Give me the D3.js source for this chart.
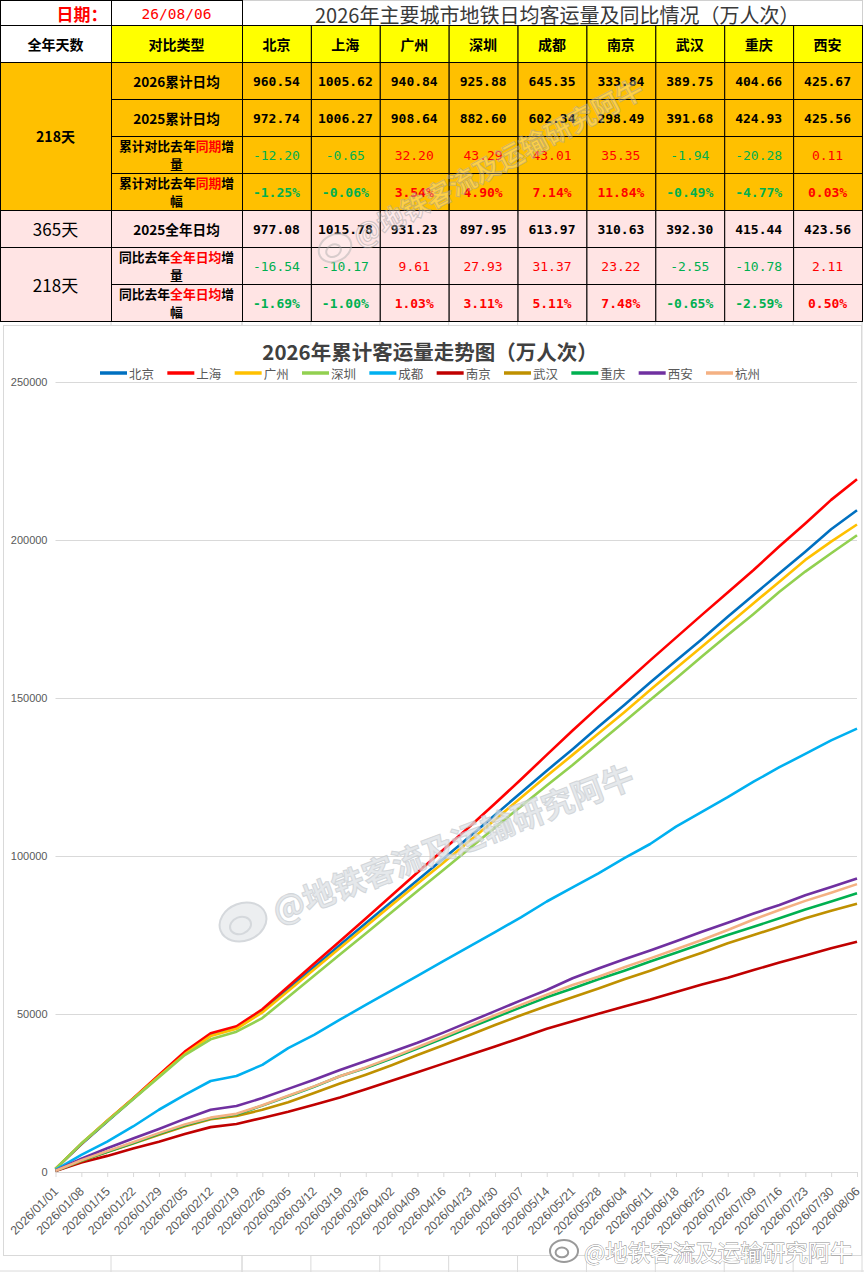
<!DOCTYPE html>
<html lang="zh">
<head>
<meta charset="UTF-8" />
<title>2026年主要城市地铁日均客运量</title>
<script src="https://cdnjs.cloudflare.com/ajax/libs/d3/7.8.5/d3.min.js"></script>
<style>
  html, body { margin: 0; padding: 0; background: #fff; }
  svg { display: block; }
</style>
</head>
<body>
<svg id="svg"></svg>
<script>
  // ---- table data ----
  const cities = ["北京", "上海", "广州", "深圳", "成都", "南京", "武汉", "重庆", "西安"];
  const avg2026 = [960.54, 1005.62, 940.84, 925.88, 645.35, 333.84, 389.75, 404.66, 425.67];
  const avg2025 = [972.74, 1006.27, 908.64, 882.60, 602.34, 298.49, 391.68, 424.93, 425.56];
  const ytdDiff = [-12.20, -0.65, 32.20, 43.29, 43.01, 35.35, -1.94, -20.28, 0.11];
  const ytdPct = [-1.25, -0.06, 3.54, 4.90, 7.14, 11.84, -0.49, -4.77, 0.03];
  const full2025 = [977.08, 1015.78, 931.23, 897.95, 613.97, 310.63, 392.30, 415.44, 423.56];
  const fullDiff = [-16.54, -10.17, 9.61, 27.93, 31.37, 23.22, -2.55, -10.78, 2.11];
  const fullPct = [-1.69, -1.00, 1.03, 3.11, 5.11, 7.48, -0.65, -2.59, 0.50];

  // ---- chart data (cumulative, 万人次, read weekly) ----
  const weekDates = ["2026/01/01", "2026/01/08", "2026/01/15", "2026/01/22", "2026/01/29", "2026/02/05",
    "2026/02/12", "2026/02/19", "2026/02/26", "2026/03/05", "2026/03/12", "2026/03/19", "2026/03/26",
    "2026/04/02", "2026/04/09", "2026/04/16", "2026/04/23", "2026/04/30", "2026/05/07", "2026/05/14",
    "2026/05/21", "2026/05/28", "2026/06/04", "2026/06/11", "2026/06/18", "2026/06/25", "2026/07/02",
    "2026/07/09", "2026/07/16", "2026/07/23", "2026/07/30", "2026/08/06"];
  const bj = [1000, 8800, 16000, 23100, 30300, 37400, 43500, 45700, 51000, 58000, 64900, 71800, 78700, 85500, 92300, 99100,
    106000, 113000, 120000, 127000, 133800, 140900, 147800, 154900, 161800, 168600, 175700, 182600, 189500, 196300, 203400, 209400];
  const sh = [1000, 8900, 16200, 23300, 30700, 38100, 43900, 46100, 51500, 58700, 65900, 73000, 80200, 87500, 94800, 102000,
    109200, 116600, 124200, 132000, 139700, 147200, 154500, 161900, 169100, 176300, 183400, 190500, 198000, 205200, 212700, 219200];
  const gz = [1000, 9000, 16200, 23200, 30300, 37300, 43000, 45300, 50500, 57300, 64100, 70900, 77700, 84500, 91200, 97900,
    104700, 111500, 118400, 125300, 132000, 138800, 145500, 152500, 159400, 166200, 173100, 180000, 186800, 193700, 199500, 204900];
  const sz = [1000, 9000, 16100, 23000, 30000, 37000, 42000, 44400, 48700, 55400, 62100, 68800, 75500, 82200, 88900, 95600,
    102300, 109000, 115700, 122300, 128800, 135700, 142500, 149400, 156200, 163100, 169900, 176600, 183600, 190000, 195800, 201500];
  const cd = [700, 5400, 9600, 14400, 19700, 24400, 28800, 30400, 33900, 39200, 43400, 48200, 52900, 57500, 62100, 66700,
    71300, 75900, 80600, 85600, 90100, 94500, 99300, 103800, 109300, 114000, 118600, 123500, 128100, 132300, 136600, 140300];
  const nj = [300, 3000, 5100, 7400, 9600, 12000, 14200, 15200, 17100, 19100, 21300, 23600, 26200, 28900, 31600, 34300,
    37000, 39700, 42500, 45300, 47700, 50100, 52400, 54600, 57000, 59300, 61500, 63900, 66300, 68500, 70800, 72900];
  const wh = [400, 3500, 6300, 9000, 11800, 14500, 16700, 17700, 19700, 22100, 25000, 28000, 30800, 33800, 37000, 40100,
    43300, 46500, 49600, 52500, 55300, 58100, 61000, 63700, 66600, 69400, 72400, 75000, 77600, 80300, 82700, 84900];
  const cq = [400, 3600, 6400, 9200, 12100, 14800, 17000, 18200, 21000, 24000, 27000, 30300, 32900, 35900, 39100, 42300,
    45600, 48900, 52100, 55300, 58100, 61000, 63700, 66600, 69400, 72200, 75000, 77600, 80300, 83100, 85600, 88200];
  const xa = [400, 4200, 7500, 10600, 13600, 16800, 19700, 20900, 23400, 26300, 29200, 32300, 35100, 38000, 40900, 44100,
    47500, 50900, 54300, 57600, 61300, 64400, 67300, 70100, 73000, 76000, 78900, 81800, 84500, 87600, 90200, 92900];
  const hz = [400, 3700, 6600, 9400, 12300, 15000, 17200, 18400, 21100, 24100, 27100, 30300, 33100, 36200, 39500, 42800,
    46200, 49600, 52900, 56100, 59200, 61800, 64800, 67600, 70500, 73400, 76600, 79900, 82900, 85800, 88400, 91100];
  const seriesNames = ["北京", "上海", "广州", "深圳", "成都", "南京", "武汉", "重庆", "西安", "杭州"];
  const seriesValues = [bj, sh, gz, sz, cd, nj, wh, cq, xa, hz];
  const yTicks = [0, 50000, 100000, 150000, 200000, 250000];

  const seriesColors = ["#0070c0", "#ff0000", "#ffc000", "#92d050", "#00b0f0", "#c00000", "#bf9000", "#00b050", "#7030a0", "#f4b183"];

  const W = 864, H = 1272;
  const CJK = "'Noto Sans CJK SC', sans-serif";
  const MONO = "'DejaVu Sans Mono', monospace";
  const ORANGE = "#ffc000", YELLOW = "#ffff00", PINK = "#ffe4e4";
  const RED = "#ff0000", GREEN = "#00b050";

  const svg = d3.select("#svg").attr("width", W).attr("height", H);

  // spreadsheet grid behind everything
  const colX = d3.scaleBand().domain(cities).range([242, 862]);
  const sheetCols = [111, 242].concat(cities.map(c => colX(c)), [862]);
  svg.append("g").selectAll("line").data(sheetCols).join("line")
    .attr("x1", d => d).attr("x2", d => d).attr("y1", 0).attr("y2", H)
    .attr("stroke", "#dadada");
  svg.append("line").attr("x1", 0).attr("x2", W).attr("y1", 1271).attr("y2", 1271).attr("stroke", "#dadada");

  // ---------------- table ----------------
  const rowKeys = ["head", "a26", "a25", "yd", "yp", "f25", "fd", "fp"];
  const rowY = d3.scaleBand().domain(rowKeys).range([25, 321]);
  const rh = rowY.bandwidth();
  const tbl = svg.append("g");

  function cell(x0, y0, w, h, fill, stroke) {
    tbl.append("rect").attr("x", x0 + 0.5).attr("y", y0 + 0.5).attr("width", w).attr("height", h)
      .attr("fill", fill).attr("stroke", stroke || "#000").attr("stroke-width", 1);
  }
  function label(x0, y0, str, opt) {
    opt = opt || {};
    return tbl.append("text").attr("x", x0).attr("y", y0)
      .attr("text-anchor", opt.anchor || "middle").attr("dominant-baseline", "central")
      .attr("font-family", opt.font || CJK).attr("font-size", opt.size || 14)
      .attr("font-weight", opt.weight || "bold").attr("fill", opt.fill || "#000")
      .text(str);
  }

  // top row: date + title
  tbl.append("rect").attr("x", 0).attr("y", 0).attr("width", 862).attr("height", 25).attr("fill", "#fff");
  cell(242, 0, 620, 25, "#fff", "#d0d0d0");
  cell(0, 0, 111, 25, "#fff");
  cell(111, 0, 131, 25, "#fff");
  label(82, 13, "日期：", { fill: RED, size: 17 });
  label(176.5, 13.5, "26/08/06", { fill: RED, size: 14.5, font: MONO, weight: "normal" });
  label(315, 14, "2026年主要城市地铁日均客运量及同比情况（万人次）",
    { anchor: "start", size: 20, weight: "normal", fill: "#3a3a3a" });

  // header row
  const hy = rowY("head");
  cell(0, hy, 111, rh, "#fff");
  cell(111, hy, 131, rh, YELLOW);
  label(55.5, hy + rh / 2, "全年天数");
  label(176.5, hy + rh / 2, "对比类型");
  cities.forEach(c => {
    cell(colX(c), hy, colX.bandwidth(), rh, YELLOW);
    label(colX(c) + colX.bandwidth() / 2, hy + rh / 2, c);
  });

  const rows = [
    { key: "a26", vals: avg2026, bg: ORANGE, label: [["2026累计日均"]] },
    { key: "a25", vals: avg2025, bg: ORANGE, label: [["2025累计日均"]] },
    { key: "yd", vals: ytdDiff, bg: ORANGE, colored: true, thin: true,
      label: [["累计对比去年"], ["同期", RED], ["增"]], label2: "量" },
    { key: "yp", vals: ytdPct, bg: ORANGE, colored: true, pct: true,
      label: [["累计对比去年"], ["同期", RED], ["增"]], label2: "幅" },
    { key: "f25", vals: full2025, bg: PINK, label: [["2025全年日均"]] },
    { key: "fd", vals: fullDiff, bg: PINK, colored: true, thin: true,
      label: [["同比去年"], ["全年日均", RED], ["增"]], label2: "量" },
    { key: "fp", vals: fullPct, bg: PINK, colored: true, pct: true,
      label: [["同比去年"], ["全年日均", RED], ["增"]], label2: "幅" }
  ];

  // merged day-count cells
  cell(0, rowY("a26"), 111, rh * 4, ORANGE);
  label(55.5, rowY("a26") + rh * 2, "218天");
  cell(0, rowY("f25"), 111, rh, PINK);
  label(55.5, rowY("f25") + rh / 2, "365天", { weight: "normal", size: 17 });
  cell(0, rowY("fd"), 111, rh * 2, PINK);
  label(55.5, rowY("fd") + rh, "218天", { weight: "normal", size: 17 });

  rows.forEach(r => {
    const y0 = rowY(r.key);
    cell(111, y0, 131, rh, r.bg);
    const fs = r.label2 ? 12.8 : 13.6;
    const t = tbl.append("text")
      .attr("x", 176.5).attr("y", r.label2 ? y0 + 9.3 : y0 + rh / 2)
      .attr("text-anchor", "middle").attr("dominant-baseline", "central")
      .attr("font-family", CJK).attr("font-size", fs).attr("font-weight", "bold");
    r.label.forEach(p => t.append("tspan").attr("fill", p[1] || "#000").text(p[0]));
    // wrapped second line
    if (r.label2) {
      tbl.append("text").attr("x", 176.5).attr("y", y0 + 27.9)
        .attr("text-anchor", "middle").attr("dominant-baseline", "central")
        .attr("font-family", CJK).attr("font-size", fs).attr("font-weight", "bold")
        .text(r.label2);
    }

    cities.forEach((c, i) => {
      const v = r.vals[i];
      cell(colX(c), y0, colX.bandwidth(), rh, r.bg);
      const str = v.toFixed(2) + (r.pct ? "%" : "");
      label(colX(c) + colX.bandwidth() / 2, y0 + rh / 2 + 0.5, str, {
        font: MONO, size: 13,
        weight: r.thin ? "normal" : "bold",
        fill: r.colored ? (v < 0 ? GREEN : RED) : "#000"
      });
    });
  });

  // ---------------- chart ----------------
  const parse = d3.timeParse("%Y/%m/%d");
  const dates = weekDates.map(parse);
  const plotL = 55.5, plotR = 857, plotT = 382, plotB = 1172;

  svg.append("rect").attr("x", 3.5).attr("y", 325.5).attr("width", 858).attr("height", 930)
    .attr("fill", "#fff").attr("stroke", "#d9d9d9");

  const x = d3.scaleTime().domain(d3.extent(dates)).range([plotL, plotR]);
  const y = d3.scaleLinear().domain([0, 250000]).range([plotB, plotT]);

  const chart = svg.append("g");

  chart.append("text").attr("x", 430).attr("y", 351)
    .attr("text-anchor", "middle").attr("dominant-baseline", "central")
    .attr("font-family", CJK).attr("font-size", 20.5).attr("font-weight", "bold")
    .attr("fill", "#404040").text("2026年累计客运量走势图（万人次）");

  // legend
  const lx = d3.scalePoint().domain(seriesNames).range([100, 706]);
  const lg = chart.append("g").selectAll("g").data(seriesNames).join("g")
    .attr("transform", d => `translate(${lx(d)},373)`);
  lg.append("line").attr("x1", 0).attr("x2", 27).attr("stroke-width", 3.5)
    .attr("stroke", (d, i) => seriesColors[i]);
  lg.append("text").attr("x", 29).attr("dominant-baseline", "central")
    .attr("font-family", CJK).attr("font-size", 12.5).attr("fill", "#595959").text(d => d);

  // y axis + gridlines
  const yAxis = d3.axisLeft(y).tickValues(yTicks).tickFormat(d3.format("d"))
    .tickSize(-(plotR - plotL)).tickPadding(8);
  const gy = chart.append("g").attr("transform", `translate(${plotL},0)`).call(yAxis);
  gy.select(".domain").remove();
  gy.selectAll(".tick line").attr("stroke", "#d9d9d9");
  gy.selectAll(".tick text").attr("font-family", "'Liberation Sans', sans-serif")
    .attr("font-size", 11).attr("fill", "#595959");

  // x axis
  const xAxis = d3.axisBottom(x).tickValues(dates).tickFormat(d3.timeFormat("%Y/%m/%d"))
    .tickSize(5).tickSizeOuter(0);
  const gx = chart.append("g").attr("transform", `translate(0,${plotB})`).call(xAxis);
  gx.select(".domain").attr("stroke", "#d9d9d9");
  gx.selectAll(".tick line").attr("stroke", "#d9d9d9");
  gx.selectAll(".tick text")
    .attr("y", 0).attr("dy", "0.35em")
    .attr("text-anchor", "end")
    .attr("transform", "translate(0,17) rotate(-45)")
    .attr("font-family", "'Liberation Sans', sans-serif")
    .attr("font-size", 12.3).attr("fill", "#595959");

  // lines
  const line = d3.line().x((d, i) => x(dates[i])).y(d => y(d));
  chart.append("g").selectAll("path").data(seriesValues).join("path")
    .attr("d", d => line(d))
    .attr("fill", "none")
    .attr("stroke", (d, i) => seriesColors[i])
    .attr("stroke-width", 2.6)
    .attr("stroke-linejoin", "round");

  // ---------------- watermarks ----------------
  const mark = "@地铁客流及运输研究阿牛";
  function weiboLogo(g, r, fill, stroke) {
    g.append("ellipse").attr("rx", r).attr("ry", r * 0.78).attr("fill", fill).attr("stroke", stroke).attr("stroke-width", 2);
    g.append("ellipse").attr("cx", -r * 0.15).attr("cy", r * 0.1).attr("rx", r * 0.45).attr("ry", r * 0.35)
      .attr("fill", "none").attr("stroke", stroke).attr("stroke-width", 2);
  }
  const wm1 = svg.append("g").attr("transform", "translate(335,248) rotate(-28)").attr("opacity", 0.55);
  weiboLogo(wm1, 17, "rgba(255,255,255,0.4)", "#b9b9b9");
  wm1.append("text").attr("x", 22).attr("dominant-baseline", "central")
    .attr("font-family", CJK).attr("font-size", 27).attr("font-weight", "bold")
    .attr("fill", "rgba(255,255,255,0.5)").attr("stroke", "#a8a8a8").attr("stroke-width", 1)
    .text(mark);

  const wm2 = svg.append("g").attr("transform", "translate(243,922) rotate(-21)").attr("opacity", 0.75);
  weiboLogo(wm2, 24, "#e6e9ec", "#c7ccd1");
  wm2.append("text").attr("x", 32).attr("dominant-baseline", "central")
    .attr("font-family", CJK).attr("font-size", 32).attr("font-weight", "bold")
    .attr("fill", "#dde1e5").attr("stroke", "#c4c9ce").attr("stroke-width", 1)
    .text(mark);

  const wm3 = svg.append("g").attr("transform", "translate(564,1251)");
  weiboLogo(wm3, 14, "#fff", "#9a9a9a");
  wm3.append("text").attr("x", 20).attr("dominant-baseline", "central")
    .attr("font-family", CJK).attr("font-size", 22.5)
    .attr("fill", "#fff").attr("stroke", "#8c8c8c").attr("stroke-width", 0.9)
    .attr("paint-order", "stroke")
    .text(mark);
</script>
</body>
</html>
